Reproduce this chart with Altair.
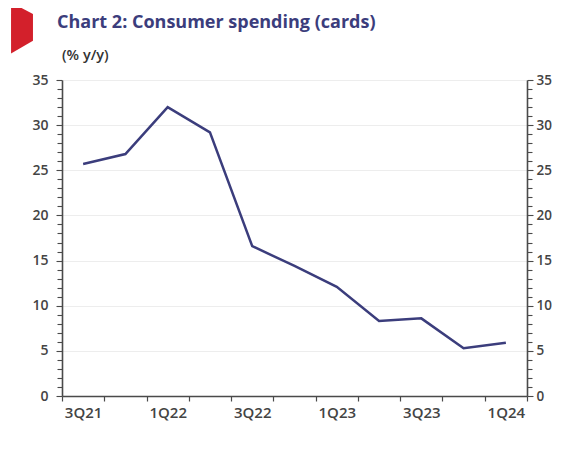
import altair as alt
import pandas as pd

quarters = ["3Q21", "4Q21", "1Q22", "2Q22", "3Q22", "4Q22", "1Q23", "2Q23", "3Q23", "4Q23", "1Q24"]
values = [25.7, 26.8, 32.0, 29.2, 16.6, 14.4, 12.1, 8.3, 8.6, 5.3, 5.9]
shown_labels = ["3Q21", "1Q22", "3Q22", "1Q23", "3Q23", "1Q24"]
y_ticks = list(range(0, 36))
title_text = "Chart 2: Consumer spending (cards)"
subtitle_text = "(% y/y)"

df = pd.DataFrame({"quarter": quarters, "value": values})

FONT = "Open Sans"
NAVY = "#3b3d7c"
AXIS = "#4a4a4a"
LABEL = "#444444"

label_expr = "indexof(" + str(shown_labels) + ", datum.label) >= 0 ? datum.label : ''"

x_enc = alt.X(
    "quarter:N",
    sort=quarters,
    scale=alt.Scale(type="band", paddingInner=0, paddingOuter=0),
    axis=alt.Axis(
        title=None,
        labelAngle=0,
        tickBand="extent",
        labelExpr=label_expr,
        labelFont=FONT,
        labelFontSize=15,
        labelFontWeight=600,
        labelColor=LABEL,
        labelPadding=4,
        tickSize=5,
        tickColor=AXIS,
        domainColor=AXIS,
        domainWidth=1.6,
        tickWidth=1.2,
        grid=False,
    ),
)

def y_axis(orient, grid, pad, size):
    return alt.Axis(
        orient=orient,
        title=None,
        values=y_ticks,
        labelExpr="datum.value % 5 === 0 ? datum.label : ''",
        labelFont=FONT,
        labelFontSize=size,
        labelFontWeight=600,
        labelColor=LABEL,
        labelPadding=pad,
        tickSize={"condition": {"test": "datum.value % 5 === 0", "value": 6}, "value": 5},
        tickColor=AXIS,
        tickWidth=1.1,
        domainColor=AXIS,
        domainWidth=1.6,
        grid=grid,
        gridColor="#ededed",
        gridOpacity={"condition": {"test": "datum.value % 5 === 0 && datum.value > 0", "value": 1}, "value": 0},
        labelOverlap=False,
    )

yscale = alt.Scale(domain=[0, 35], nice=False)

line = alt.Chart(df).mark_line(color=NAVY, strokeWidth=2.5).encode(
    x=x_enc,
    y=alt.Y("value:Q", scale=yscale, axis=y_axis("left", True, 8, 14)),
)

right = alt.Chart(df).mark_line(opacity=0).encode(
    x=x_enc,
    y=alt.Y("value:Q", scale=yscale, axis=y_axis("right", False, 3, 13.5)),
)

one = pd.DataFrame({"a": [0]})

deco = alt.Chart(one).mark_point(
    shape="M-0.43,-1 L0.43,-0.55 L0.43,0.5 L-0.43,1 Z",
    filled=True,
    color="#d3202b",
    opacity=1,
    size=2601,
    clip=False,
).encode(x=alt.value(-40), y=alt.value(-52))

title = alt.Chart(one).mark_text(
    text=title_text,
    font=FONT,
    fontSize=18,
    fontWeight="bold",
    color=NAVY,
    align="left",
    baseline="alphabetic",
    clip=False,
).encode(x=alt.value(-5), y=alt.value(-52))

subtitle = alt.Chart(one).mark_text(
    text=subtitle_text,
    font=FONT,
    fontSize=14.5,
    fontWeight=600,
    color="#333333",
    align="left",
    baseline="alphabetic",
    clip=False,
).encode(x=alt.value(0), y=alt.value(-20))

chart = (
    alt.layer(line, right, deco, title, subtitle)
    .resolve_scale(y="independent")
    .properties(
        width=465,
        height=316,
        autosize="none",
        padding={"left": 54, "top": 72, "right": 27, "bottom": 53},
    )
    .configure_view(stroke=None)
)

chart.save("out.html", embed_options={"renderer": "svg", "actions": False})
